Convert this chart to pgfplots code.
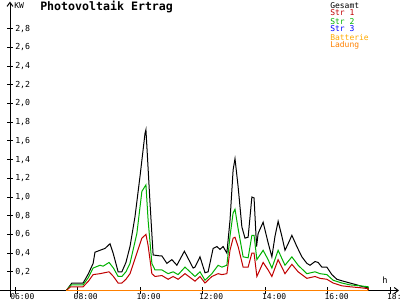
\documentclass[border=0pt]{standalone}
\usepackage{fontspec}
\setmainfont{DejaVu Sans Mono}
\usepackage{pgfplots}
\pgfplotsset{compat=1.18}
\usetikzlibrary{arrows.meta}
\definecolor{cRed}{RGB}{192,0,0}
\definecolor{cGreen}{RGB}{0,176,0}
\definecolor{cBlue}{RGB}{0,0,255}
\definecolor{cBatt}{RGB}{255,170,0}
\definecolor{cLad}{RGB}{255,128,0}
\begin{document}
\begin{tikzpicture}
\begin{axis}[
  scale only axis, width=300pt, height=225pt,
  xmin=5.52, xmax=18.32, ymin=-0.1016, ymax=3.107,
  axis lines=none, clip=false,
  every axis plot/.append style={line width=0.75pt, line join=miter},
]
\coordinate (ll) at (rel axis cs:0,0);
\coordinate (ur) at (rel axis cs:1,1);
% axes
\draw[line width=0.75pt, -{Straight Barb[length=3pt,width=4.5pt]}] (axis cs:5.52,0) -- (axis cs:18.29,0);
\draw[line width=0.75pt, -{Straight Barb[length=3pt,width=4.5pt]}] (axis cs:5.84,-0.07) -- (axis cs:5.84,3.09);
% y ticks
\pgfplotsinvokeforeach{0.2,0.4,0.6,0.8,1.0,1.2,1.4,1.6,1.8,2.0,2.2,2.4,2.6,2.8}{
  \draw[line width=0.75pt] (axis cs:5.744,#1) -- (axis cs:5.936,#1);
}
\node[anchor=west,inner sep=0pt,font=\fontsize{6.2}{6.2}\selectfont] at (axis cs:6.0,0.2) {0,2};
\node[anchor=west,inner sep=0pt,font=\fontsize{6.2}{6.2}\selectfont] at (axis cs:6.0,0.4) {0,4};
\node[anchor=west,inner sep=0pt,font=\fontsize{6.2}{6.2}\selectfont] at (axis cs:6.0,0.6) {0,6};
\node[anchor=west,inner sep=0pt,font=\fontsize{6.2}{6.2}\selectfont] at (axis cs:6.0,0.8) {0,8};
\node[anchor=west,inner sep=0pt,font=\fontsize{6.2}{6.2}\selectfont] at (axis cs:6.0,1.0) {1,0};
\node[anchor=west,inner sep=0pt,font=\fontsize{6.2}{6.2}\selectfont] at (axis cs:6.0,1.2) {1,2};
\node[anchor=west,inner sep=0pt,font=\fontsize{6.2}{6.2}\selectfont] at (axis cs:6.0,1.4) {1,4};
\node[anchor=west,inner sep=0pt,font=\fontsize{6.2}{6.2}\selectfont] at (axis cs:6.0,1.6) {1,6};
\node[anchor=west,inner sep=0pt,font=\fontsize{6.2}{6.2}\selectfont] at (axis cs:6.0,1.8) {1,8};
\node[anchor=west,inner sep=0pt,font=\fontsize{6.2}{6.2}\selectfont] at (axis cs:6.0,2.0) {2,0};
\node[anchor=west,inner sep=0pt,font=\fontsize{6.2}{6.2}\selectfont] at (axis cs:6.0,2.2) {2,2};
\node[anchor=west,inner sep=0pt,font=\fontsize{6.2}{6.2}\selectfont] at (axis cs:6.0,2.4) {2,4};
\node[anchor=west,inner sep=0pt,font=\fontsize{6.2}{6.2}\selectfont] at (axis cs:6.0,2.6) {2,6};
\node[anchor=west,inner sep=0pt,font=\fontsize{6.2}{6.2}\selectfont] at (axis cs:6.0,2.8) {2,8};
% x ticks
\pgfplotsinvokeforeach{6,8,10,12,14,16,18}{
  \draw[line width=0.75pt] (axis cs:#1,0.037) -- (axis cs:#1,-0.037);
}
\node[anchor=north west,inner sep=0pt,font=\fontsize{6}{6}\selectfont] at (axis cs:5.84,-0.025) {06:00};
\node[anchor=north west,inner sep=0pt,font=\fontsize{6}{6}\selectfont] at (axis cs:7.87,-0.025) {08:00};
\node[anchor=north west,inner sep=0pt,font=\fontsize{6}{6}\selectfont] at (axis cs:9.88,-0.025) {10:00};
\node[anchor=north west,inner sep=0pt,font=\fontsize{6}{6}\selectfont] at (axis cs:11.88,-0.025) {12:00};
\node[anchor=north west,inner sep=0pt,font=\fontsize{6}{6}\selectfont] at (axis cs:13.90,-0.025) {14:00};
\node[anchor=north west,inner sep=0pt,font=\fontsize{6}{6}\selectfont] at (axis cs:15.90,-0.025) {16:00};
\node[anchor=north west,inner sep=0pt,font=\fontsize{6}{6}\selectfont] at (axis cs:17.90,-0.025) {18:00};
% axis labels
\node[anchor=base,inner sep=0pt,font=\fontsize{6.5}{6.5}\selectfont] at (axis cs:17.84,0.08) {h};
\node[anchor=base west,inner sep=0pt,font=\fontsize{6}{6}\selectfont] at (axis cs:5.968,3.011) {KW};
% title
\node[anchor=base west,inner sep=0pt,font=\fontsize{8.7}{8.7}\selectfont\bfseries] at (axis cs:6.8,2.995) {Photovoltaik Ertrag};
% legend
\node[anchor=base west,inner sep=0pt,font=\fontsize{6}{6}\selectfont,text=black] at (axis cs:16.08,3.021) {Gesamt};
\node[anchor=base west,inner sep=0pt,font=\fontsize{6}{6}\selectfont,text=cRed] at (axis cs:16.08,2.936) {Str 1};
\node[anchor=base west,inner sep=0pt,font=\fontsize{6}{6}\selectfont,text=cGreen] at (axis cs:16.08,2.850) {Str 2};
\node[anchor=base west,inner sep=0pt,font=\fontsize{6}{6}\selectfont,text=cBlue] at (axis cs:16.08,2.765) {Str 3};
\node[anchor=base west,inner sep=0pt,font=\fontsize{6}{6}\selectfont,text=cBatt] at (axis cs:16.08,2.679) {Batterie};
\node[anchor=base west,inner sep=0pt,font=\fontsize{6}{6}\selectfont,text=cLad] at (axis cs:16.08,2.594) {Ladung};

% Gesamt
\addplot[black] coordinates {
(7.64,0) (7.82,0.08) (8.18,0.08) (8.35,0.18) (8.50,0.29) (8.56,0.41) (8.88,0.45) (9.04,0.50) (9.14,0.40) (9.30,0.20) (9.42,0.20) (9.55,0.30) (9.68,0.47) (9.84,0.79) (10.0,1.22) (10.16,1.68) (10.19,1.72) (10.26,1.30) (10.32,0.94) (10.42,0.38) (10.64,0.37) (10.70,0.37) (10.86,0.29) (11.02,0.33) (11.18,0.27) (11.42,0.42) (11.70,0.24) (11.76,0.25) (11.92,0.36) (12.08,0.19) (12.18,0.20) (12.34,0.45) (12.46,0.47) (12.56,0.44) (12.66,0.47) (12.78,0.40) (12.88,0.75) (12.98,1.29) (13.04,1.41) (13.14,1.11) (13.26,0.68) (13.36,0.56) (13.46,0.57) (13.58,1.00) (13.65,0.99) (13.73,0.47) (13.78,0.61) (13.94,0.73) (14.10,0.51) (14.22,0.36) (14.32,0.58) (14.42,0.74) (14.54,0.58) (14.64,0.43) (14.74,0.50) (14.86,0.59) (15.02,0.47) (15.18,0.36) (15.34,0.29) (15.44,0.27) (15.60,0.31) (15.70,0.30) (15.82,0.25) (15.98,0.25) (16.14,0.17) (16.30,0.12) (16.50,0.10) (16.72,0.08) (16.94,0.06) (17.14,0.04) (17.30,0.03) (17.30,0)
};
% Str 2
\addplot[cGreen] coordinates {
(7.64,0) (7.80,0.06) (8.18,0.06) (8.35,0.14) (8.50,0.24) (8.72,0.27) (8.82,0.26) (9.01,0.30) (9.15,0.24) (9.30,0.15) (9.42,0.15) (9.55,0.20) (9.68,0.29) (9.90,0.61) (10.06,1.06) (10.19,1.13) (10.26,0.75) (10.38,0.29) (10.48,0.22) (10.70,0.22) (10.90,0.18) (11.06,0.20) (11.22,0.17) (11.44,0.25) (11.76,0.15) (11.92,0.20) (12.08,0.11) (12.30,0.18) (12.50,0.27) (12.62,0.25) (12.78,0.27) (12.88,0.58) (12.98,0.83) (13.04,0.87) (13.14,0.66) (13.30,0.36) (13.46,0.35) (13.58,0.59) (13.65,0.59) (13.74,0.33) (13.94,0.43) (14.10,0.33) (14.22,0.24) (14.42,0.43) (14.64,0.27) (14.86,0.36) (15.06,0.27) (15.34,0.18) (15.60,0.20) (15.76,0.18) (15.98,0.17) (16.18,0.11) (16.46,0.08) (16.72,0.06) (17.04,0.05) (17.30,0.04) (17.30,0)
};
% Str 1
\addplot[cRed] coordinates {
(7.64,0) (7.78,0.04) (8.18,0.04) (8.35,0.10) (8.50,0.17) (8.72,0.18) (9.01,0.20) (9.15,0.15) (9.30,0.08) (9.42,0.08) (9.55,0.12) (9.68,0.18) (9.90,0.40) (10.06,0.56) (10.19,0.60) (10.26,0.48) (10.38,0.18) (10.48,0.15) (10.70,0.16) (10.90,0.12) (11.06,0.15) (11.22,0.12) (11.44,0.18) (11.76,0.10) (11.92,0.15) (12.08,0.08) (12.30,0.15) (12.50,0.18) (12.62,0.17) (12.78,0.18) (12.88,0.43) (12.98,0.56) (13.04,0.57) (13.14,0.47) (13.30,0.25) (13.46,0.25) (13.58,0.40) (13.65,0.40) (13.74,0.15) (13.94,0.30) (14.10,0.22) (14.22,0.15) (14.42,0.33) (14.64,0.18) (14.86,0.28) (15.06,0.20) (15.34,0.13) (15.60,0.15) (15.76,0.13) (15.98,0.12) (16.18,0.08) (16.46,0.05) (16.72,0.04) (17.04,0.03) (17.30,0.02) (17.30,0)
};
% Str 3, Batterie, Ladung (zero)
\addplot[cBlue] coordinates {(7.64,0) (17.30,0)};
\addplot[cBatt] coordinates {(7.64,0) (17.30,0)};
\addplot[cLad] coordinates {(7.64,0) (17.30,0)};
\end{axis}
\pgfresetboundingbox
\useasboundingbox (ll) rectangle (ur);
\end{tikzpicture}
\end{document}
